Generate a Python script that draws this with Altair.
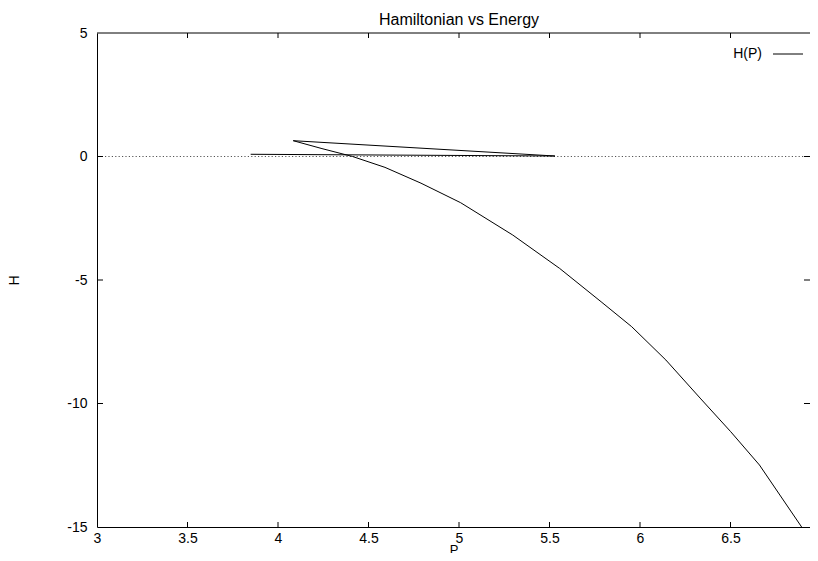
import altair as alt
import pandas as pd

# ---- data ----
P_vals = [3.849, 5.530, 4.084, 4.243, 4.412, 4.591, 4.790, 5.009, 5.297, 5.556, 5.785, 5.954, 6.143, 6.332, 6.501, 6.660, 6.893]
H_vals = [0.09, 0.02, 0.64, 0.32, 0.0, -0.44, -1.08, -1.87, -3.18, -4.53, -5.88, -6.89, -8.24, -9.78, -11.14, -12.49, -15.0]
x_tick_values = [3, 3.5, 4, 4.5, 5, 5.5, 6, 6.5]
y_tick_values = [-15, -10, -5, 0, 5]
x_inner_ticks = [3.5, 4, 4.5, 5, 5.5, 6, 6.5]
y_inner_ticks = [-10, -5, 0]
legend_labels = ["H(P)"]
chart_title = ["Hamiltonian vs Energy"]
zero_level = [0]

FONT = "Liberation Sans"
PX_PER_UNIT = 181          # horizontal scale of the reference
W, HT = 713, 494           # the page's content box ends at x = 810
X_MAX = 3 + W / PX_PER_UNIT

df = pd.DataFrame({"P": P_vals, "H": H_vals, "i": list(range(len(P_vals)))})

xscale = alt.Scale(domain=[3, X_MAX], nice=False, zero=False)
yscale = alt.Scale(domain=[-15, 5], nice=False, zero=False)

x_axis = alt.Axis(values=x_tick_values, title="P", ticks=False, grid=False,
                  labelFlush=False, labelOverlap=False, labelPadding=4,
                  labelExpr="datum.value + ''", domainColor="black",
                  titleBaseline="alphabetic", titleY=26, titleFontSize=13)
y_axis = alt.Axis(values=y_tick_values, title="H", ticks=False, grid=False,
                  labelFlush=False, labelOverlap=False, labelPadding=10,
                  labelExpr="datum.value + ''", domainColor="black",
                  titleX=-82.5, titleY=HT / 2, titleBaseline="middle", titleAlign="center")

line = alt.Chart(df).mark_line(color="black", strokeWidth=1, clip=True).encode(
    x=alt.X("P:Q", scale=xscale, axis=x_axis),
    y=alt.Y("H:Q", scale=yscale, axis=y_axis),
    order="i:Q",
)

zero = alt.Chart(pd.DataFrame({"H": zero_level})).mark_rule(
    color="#555", strokeWidth=1, strokeDash=[1.2, 2.2]
).encode(y=alt.Y("H:Q", scale=yscale, axis=y_axis))

xt = pd.DataFrame({"P": x_inner_ticks})
yt = pd.DataFrame({"H": y_inner_ticks})
tick_bottom = alt.Chart(xt).mark_rule(color="black").encode(
    x=alt.X("P:Q", scale=xscale, axis=x_axis), y=alt.value(HT - 5), y2=alt.value(HT))
tick_top = alt.Chart(xt).mark_rule(color="black").encode(
    x=alt.X("P:Q", scale=xscale, axis=x_axis), y=alt.value(0), y2=alt.value(5))
tick_left = alt.Chart(yt).mark_rule(color="black").encode(
    y=alt.Y("H:Q", scale=yscale, axis=y_axis), x=alt.value(0), x2=alt.value(6))
tick_right = alt.Chart(yt).mark_rule(color="black").encode(
    y=alt.Y("H:Q", scale=yscale, axis=y_axis), x=alt.value(W - 6), x2=alt.value(W))

top_border = alt.Chart(pd.DataFrame({"z": zero_level})).mark_rule(color="black").encode(
    x=alt.value(0), x2=alt.value(W), y=alt.value(0))

title_text = alt.Chart(pd.DataFrame({"t": chart_title})).mark_text(
    align="center", baseline="alphabetic", font=FONT, fontSize=16, color="black"
).encode(text="t:N", x=alt.value(362), y=alt.value(-8))

leg_df = pd.DataFrame({"label": legend_labels})
leg_text = alt.Chart(leg_df).mark_text(
    align="right", baseline="middle", font=FONT, fontSize=14, color="black"
).encode(text="label:N", x=alt.value(665), y=alt.value(21))
leg_line = alt.Chart(leg_df).mark_rule(color="black", strokeWidth=1).encode(
    x=alt.value(676), x2=alt.value(706), y=alt.value(21))

chart = alt.layer(
    zero, line, tick_bottom, tick_top, tick_left, tick_right, top_border,
    title_text, leg_text, leg_line
).properties(
    width=W, height=HT,
    autosize=alt.AutoSizeParams(type="none"),
    padding={"left": 89, "top": 25, "right": 0, "bottom": 26},
).configure_view(stroke=None).configure_axis(
    labelFont=FONT, labelFontSize=14, labelColor="black",
    titleFont=FONT, titleFontSize=14, titleColor="black", titleFontWeight="normal",
    domainWidth=1,
)

chart.save("out.html", embed_options={"renderer": "svg", "actions": False})
